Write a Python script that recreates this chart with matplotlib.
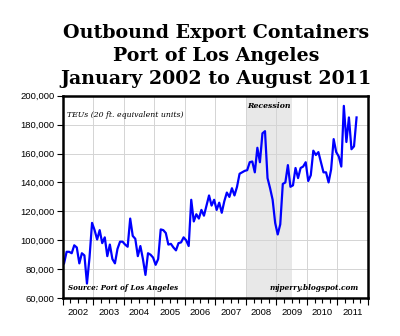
import matplotlib
matplotlib.use("Agg")
import matplotlib.pyplot as plt
import numpy as np
from matplotlib.ticker import FixedLocator, FuncFormatter, NullFormatter

# Monthly outbound loaded export containers, Port of Los Angeles (TEUs)
start_year = 2002
teus = [
    # 2002
    84000, 92000, 92000, 91000, 96500, 95000, 84000, 91000, 89500, 70000, 88000, 112000,
    # 2003
    107000, 100500, 107000, 98000, 102000, 89000, 97000, 87000, 84000, 94000, 99000, 99000,
    # 2004
    97000, 95500, 115000, 103000, 101000, 89000, 96000, 87000, 76000, 91000, 90000, 88000,
    # 2005
    83000, 87000, 107500, 107000, 105000, 97000, 97500, 95000, 93000, 98000, 98500, 102000,
    # 2006
    100000, 96000, 128000, 113000, 118000, 115000, 121000, 117000, 124000, 131000, 124000, 128000,
    # 2007
    121000, 126000, 119000, 127000, 133000, 130000, 136000, 131000, 137000, 146000, 147000, 148000,
    # 2008
    148500, 154000, 154500, 147000, 164000, 154000, 174000, 175500, 143000, 136000, 128000, 112000,
    # 2009
    104000, 111000, 139000, 140000, 152000, 137000, 138000, 150000, 143000, 150000, 151000, 154000,
    # 2010
    141000, 145000, 162000, 159000, 161000, 154000, 147000, 147000, 140000, 149000, 170000, 161000,
    # 2011 (Jan-Aug)
    158000, 151000, 193000, 168000, 185000, 163000, 165000, 185000,
]
year_labels = ["2002", "2003", "2004", "2005", "2006", "2007", "2008", "2009", "2010", "2011"]
y_ticks = [60000, 80000, 100000, 120000, 140000, 160000, 180000, 200000]
recession = (2008.0, 2009.5)

title = "Outbound Export Containers\nPort of Los Angeles\nJanuary 2002 to August 2011"

# month centres expressed as fractional years
t = start_year + (np.arange(len(teus)) + 0.5) / 12.0

fig = plt.figure(figsize=(4.0, 3.36), dpi=100)
ax = fig.add_axes([0.157, 0.113, 0.763, 0.602])

ax.axvspan(recession[0], recession[1], color="#e8e8e8", zorder=0, lw=0)
ax.plot(t, teus, color="#0000ff", lw=1.6, zorder=3)

ax.set_xlim(2002, 2012)
ax.set_ylim(y_ticks[0], y_ticks[-1])

# grid at every year boundary and every y tick
for yr in range(2003, 2012):
    ax.axvline(yr, color="#d4d4d4", lw=0.7, zorder=1)
for yv in y_ticks[1:-1]:
    ax.axhline(yv, color="#d4d4d4", lw=0.7, zorder=1)

ax.yaxis.set_major_locator(FixedLocator(y_ticks))
ax.yaxis.set_major_formatter(FuncFormatter(lambda v, p: f"{int(v):,}"))
ax.tick_params(axis="y", direction="out", length=4, width=0.8, pad=2,
               labelsize=6.8, colors="black")

years = np.arange(2002, 2013)
ax.xaxis.set_major_locator(FixedLocator(years))
ax.xaxis.set_major_formatter(NullFormatter())
quarters = [y + q / 4 for y in range(2002, 2012) for q in range(1, 4)]
ax.xaxis.set_minor_locator(FixedLocator(quarters))
ax.tick_params(axis="x", which="major", direction="out", length=5, width=0.8)
ax.tick_params(axis="x", which="minor", direction="out", length=3.5, width=0.8)
for i, lab in enumerate(year_labels):
    ax.text(start_year + i + 0.5, -0.048, lab, transform=ax.get_xaxis_transform(),
            ha="center", va="top", fontsize=6.8, family="Liberation Sans")

for s in ax.spines.values():
    s.set_linewidth(1.8)
    s.set_color("black")
    s.set_zorder(4)

for lab in ax.get_yticklabels():
    lab.set_family("Liberation Sans")

serif = "DejaVu Serif"
ax.text(0.015, 0.905, "TEUs (20 ft. equivalent units)", transform=ax.transAxes,
        fontsize=5.6, style="italic", family=serif, ha="left", va="center")
ax.text(sum(recession) / 2, 0.95, "Recession", transform=ax.get_xaxis_transform(),
        fontsize=5.6, style="italic", weight="bold", family=serif, ha="center", va="center")
ax.text(0.018, 0.03, "Source: Port of Los Angeles", transform=ax.transAxes,
        fontsize=5.1, style="italic", weight="bold", family=serif, ha="left", va="bottom")
ax.text(0.97, 0.03, "mjperry.blogspot.com", transform=ax.transAxes,
        fontsize=5.35, style="italic", weight="bold", family=serif, ha="right", va="bottom")

fig.text(0.54, 0.738, title, ha="center", va="bottom", fontsize=13.7,
         weight="bold", family=serif, linespacing=1.35)

fig.savefig("out.png", dpi=100, facecolor="white")
